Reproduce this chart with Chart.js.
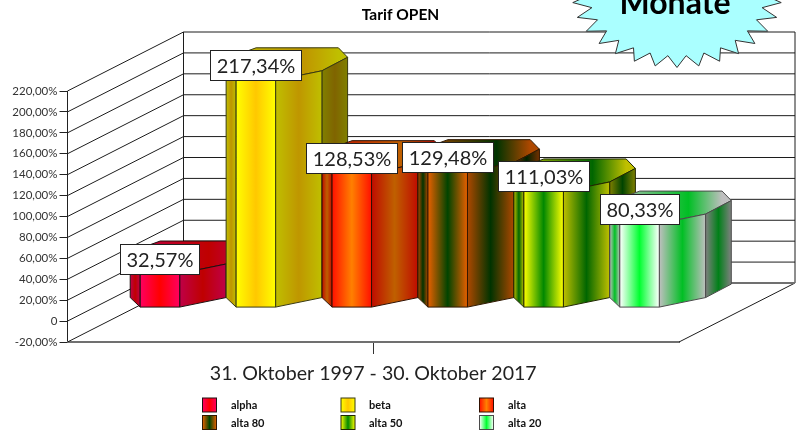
<!DOCTYPE html>
<html>
<head>
<meta charset="utf-8">
<title>Tarif OPEN</title>
<script src="https://cdn.jsdelivr.net/npm/chart.js@4"></script>
<style>
    html, body { margin: 0; padding: 0; background: #fff; }
    canvas { display: block; }
</style>
</head>
<body>
<canvas id="tarifChart" width="801" height="432"></canvas>
<script>
var periods = ["31. Oktober 1997 - 30. Oktober 2017"];
var seriesNames = ["alpha", "beta", "alta", "alta 80", "alta 50", "alta 20"];
var seriesValues = [32.57, 217.34, 128.53, 129.48, 111.03, 80.33];
var valueLabels = ["32,57%", "217,34%", "128,53%", "129,48%", "111,03%", "80,33%"];
var yTickLabels = ["-20,00%", "0", "20,00%", "40,00%", "60,00%", "80,00%", "100,00%", "120,00%",
    "140,00%", "160,00%", "180,00%", "200,00%", "220,00%"];

var edgeColors = [[255, 0, 96], [255, 255, 0], [255, 16, 0], [232, 96, 0], [255, 255, 0], [255, 255, 255]];
var midColors = [[255, 0, 0], [255, 200, 0], [255, 128, 0], [0, 68, 0], [0, 136, 0], [0, 255, 48]];
var lineColors = ["#201010", "#3a3a10", "#301000", "#301800", "#202800", "#4a4a4a"];

var FONT = "Lato, 'Open Sans', sans-serif";
var WALL_DX = 116, WALL_DY = 59;    // depth of the room
var BAR_DX = 26.5, BAR_DY = 13.5;   // bars stand this far inside the room

function shade(rgb, f) {
    return "rgb(" + Math.round(rgb[0] * f) + "," + Math.round(rgb[1] * f) + "," + Math.round(rgb[2] * f) + ")";
}

function sweep(ctx, x0, x1, i, f, mid) {
    var g = ctx.createLinearGradient(x0, 0, x1, 0);
    g.addColorStop(0, shade(edgeColors[i], f));
    g.addColorStop(mid || 0.5, shade(midColors[i], f));
    g.addColorStop(1, shade(edgeColors[i], f));
    return g;
}

function facet(ctx, pts, fill, stroke) {
    ctx.beginPath();
    ctx.moveTo(pts[0][0], pts[0][1]);
    for (var k = 1; k < pts.length; k++) ctx.lineTo(pts[k][0], pts[k][1]);
    ctx.closePath();
    ctx.fillStyle = fill;
    ctx.fill();
    ctx.lineWidth = 1;
    ctx.strokeStyle = stroke;
    ctx.stroke();
}

// room behind the bars, lines follow the y scale
function drawRoom(chart) {
    var ctx = chart.ctx, s = chart.scales.y, a = chart.chartArea;
    ctx.save();
    ctx.strokeStyle = "#1c1c1c";
    ctx.lineWidth = 1;
    s.ticks.forEach(function(t) {
        var y = s.getPixelForValue(t.value);
        if (t.value === s.min) return;
        ctx.beginPath();
        ctx.moveTo(a.left, y);
        ctx.lineTo(a.left + WALL_DX, y - WALL_DY);
        ctx.lineTo(a.right + WALL_DX, y - WALL_DY);
        ctx.stroke();
    });
    ctx.beginPath();
    ctx.moveTo(a.left, a.bottom);
    ctx.lineTo(a.left + WALL_DX, a.bottom - WALL_DY);
    ctx.moveTo(a.right, a.bottom);
    ctx.lineTo(a.right + WALL_DX, a.bottom - WALL_DY);
    ctx.moveTo(a.left + WALL_DX, a.top - WALL_DY);
    ctx.lineTo(a.left + WALL_DX, a.bottom - WALL_DY);
    ctx.moveTo(a.right + WALL_DX, a.top - WALL_DY);
    ctx.lineTo(a.right + WALL_DX, a.bottom - WALL_DY);
    ctx.stroke();
    ctx.strokeStyle = "#707070";
    ctx.lineWidth = 2;
    ctx.beginPath();
    ctx.moveTo(a.left + WALL_DX, a.bottom - WALL_DY);
    ctx.lineTo(a.right + WALL_DX, a.bottom - WALL_DY);
    ctx.stroke();
    ctx.restore();
}

// eight sided column around the bar element of the library
function drawColumn(ctx, bar, i) {
    var w = bar.width;
    var x0 = bar.x - w / 2 + BAR_DX;
    var top = bar.y - BAR_DY, bot = bar.base - BAR_DY;
    var xl = x0 - 10, xr = x0 + w, xr1 = xr + 46.3, xr2 = xr + 72, xb = xr + 62.8;
    var line = lineColors[i];

    facet(ctx, [[xl, top - 9.5], [x0, top], [xr, top], [xr1, top - 9.5], [xr2, top - 23],
        [xb, top - 32.5], [x0 + 20, top - 32.5], [xl + 4, top - 23]], sweep(ctx, xl, xb, i, 0.75, 0.7), line);
    facet(ctx, [[xl, top - 9.5], [x0, top], [x0, bot], [xl, bot - 9.5]], sweep(ctx, xl, x0, i, 0.75), line);
    facet(ctx, [[xr1, top - 9.5], [xr2, top - 23], [xr2, bot - 23], [xr1, bot - 9.5]], sweep(ctx, xr1, xr2, i, 0.5), line);
    facet(ctx, [[xr, top], [xr1, top - 9.5], [xr1, bot - 9.5], [xr, bot]], sweep(ctx, xr, xr1, i, 0.75), line);
    facet(ctx, [[x0, top], [xr, top], [xr, bot], [x0, bot]], sweep(ctx, x0, xr, i, 1), line);
}

function drawValueBox(ctx, bar, i) {
    var cx = bar.x + BAR_DX, bottom = bar.y - BAR_DY;
    ctx.font = "20px " + FONT;
    var tw = ctx.measureText(valueLabels[i]).width;
    var bw = Math.round(tw + 12), bh = 30;
    var left = Math.round(cx - bw / 2) + 0.5, y = Math.round(bottom - bh) + 0.5;
    ctx.fillStyle = "#fff";
    ctx.strokeStyle = "#222";
    ctx.lineWidth = 1;
    ctx.fillRect(left, y, bw, bh);
    ctx.strokeRect(left, y, bw, bh);
    ctx.fillStyle = "#222";
    ctx.textAlign = "center";
    ctx.textBaseline = "middle";
    ctx.fillText(valueLabels[i], left + bw / 2, y + bh / 2 + 1);
}

function drawStar(ctx) {
    var cx = 677, cy = -5, n = 30;
    ctx.beginPath();
    for (var k = 0; k < n * 2; k++) {
        var t = k * Math.PI / n;
        var rx = k % 2 ? 87 : 104.8, ry = k % 2 ? 61 : 72.5;
        ctx.lineTo(cx + rx * Math.sin(t), cy + ry * Math.cos(t));
    }
    ctx.closePath();
    ctx.fillStyle = "#aaffff";
    ctx.fill();
    ctx.strokeStyle = "#333";
    ctx.lineWidth = 1;
    ctx.stroke();
    ctx.fillStyle = "#000";
    ctx.font = "bold 32px " + FONT;
    ctx.textAlign = "center";
    ctx.textBaseline = "alphabetic";
    ctx.fillText("Monate", cx - 2, 14);
}

function drawLegend(chart) {
    var ctx = chart.ctx;
    var cols = [202.5, 341, 479.5], textCols = [231, 369, 508], rows = [398, 415.5];
    ctx.save();
    ctx.font = "bold 11px " + FONT;
    ctx.textBaseline = "middle";
    ctx.textAlign = "left";
    chart.data.datasets.forEach(function(ds, i) {
        var c = i % 3, r = Math.floor(i / 3);
        ctx.fillStyle = sweep(ctx, cols[c], cols[c] + 14, i, 1);
        ctx.fillRect(cols[c], rows[r], 14, 14);
        ctx.strokeStyle = lineColors[i];
        ctx.lineWidth = 1;
        ctx.strokeRect(cols[c], rows[r], 14, 14);
        ctx.fillStyle = "#111";
        ctx.fillText(ds.label, textCols[c], rows[r] + 7.5);
    });
    ctx.restore();
}

var room3d = {
    id: "room3d",
    afterLayout: function(chart) {
        // title sits in the middle of the page, not of the plot
        chart.titleBlock.left = 0;
        chart.titleBlock.right = chart.width;
    },
    beforeDatasetsDraw: function(chart) {
        var ctx = chart.ctx;
        drawRoom(chart);
        ctx.save();
        chart.data.datasets.forEach(function(ds, i) {
            drawColumn(ctx, chart.getDatasetMeta(i).data[0], i);
        });
        ctx.restore();
    },
    afterDraw: function(chart) {
        var ctx = chart.ctx;
        ctx.save();
        chart.data.datasets.forEach(function(ds, i) {
            drawValueBox(ctx, chart.getDatasetMeta(i).data[0], i);
        });
        drawStar(ctx);
        ctx.restore();
        drawLegend(chart);
    }
};

var datasets = seriesNames.map(function(name, i) {
    return {
        label: name,
        data: [seriesValues[i]],
        backgroundColor: "transparent",
        borderWidth: 0,
        categoryPercentage: 576 / 612,
        barPercentage: 39.5 / 96
    };
});

new Chart(document.getElementById("tarifChart"), {
    type: "bar",
    data: { labels: periods, datasets: datasets },
    plugins: [room3d],
    options: {
        responsive: false,
        animation: false,
        layout: { padding: { left: 0, right: 122, top: 0, bottom: 0 } },
        plugins: {
            legend: { display: false },
            tooltip: { enabled: false },
            title: {
                display: true,
                text: "Tarif OPEN",
                color: "#000",
                font: { family: FONT, size: 15.5, weight: "bold" },
                padding: { top: 6, bottom: 66.4 },
                fullSize: true
            }
        },
        scales: {
            y: {
                min: -20,
                max: 220,
                afterFit: function(scale) { scale.width = 67.5; },
                ticks: {
                    stepSize: 20,
                    color: "#333",
                    font: { family: FONT, size: 11.5 },
                    padding: 2,
                    callback: function(value, index) { return yTickLabels[index]; }
                },
                grid: { drawOnChartArea: false, tickLength: 8, color: "#222" },
                border: { color: "#222" }
            },
            x: {
                afterFit: function(scale) { scale.height = 90; },
                ticks: {
                    color: "#222",
                    font: { family: FONT, size: 19.6 },
                    padding: 8,
                    maxRotation: 0
                },
                grid: { drawOnChartArea: false, offset: false, tickLength: 12, color: "#333" },
                border: { color: "#707070", width: 2 }
            }
        }
    }
});
</script>
</body>
</html>
